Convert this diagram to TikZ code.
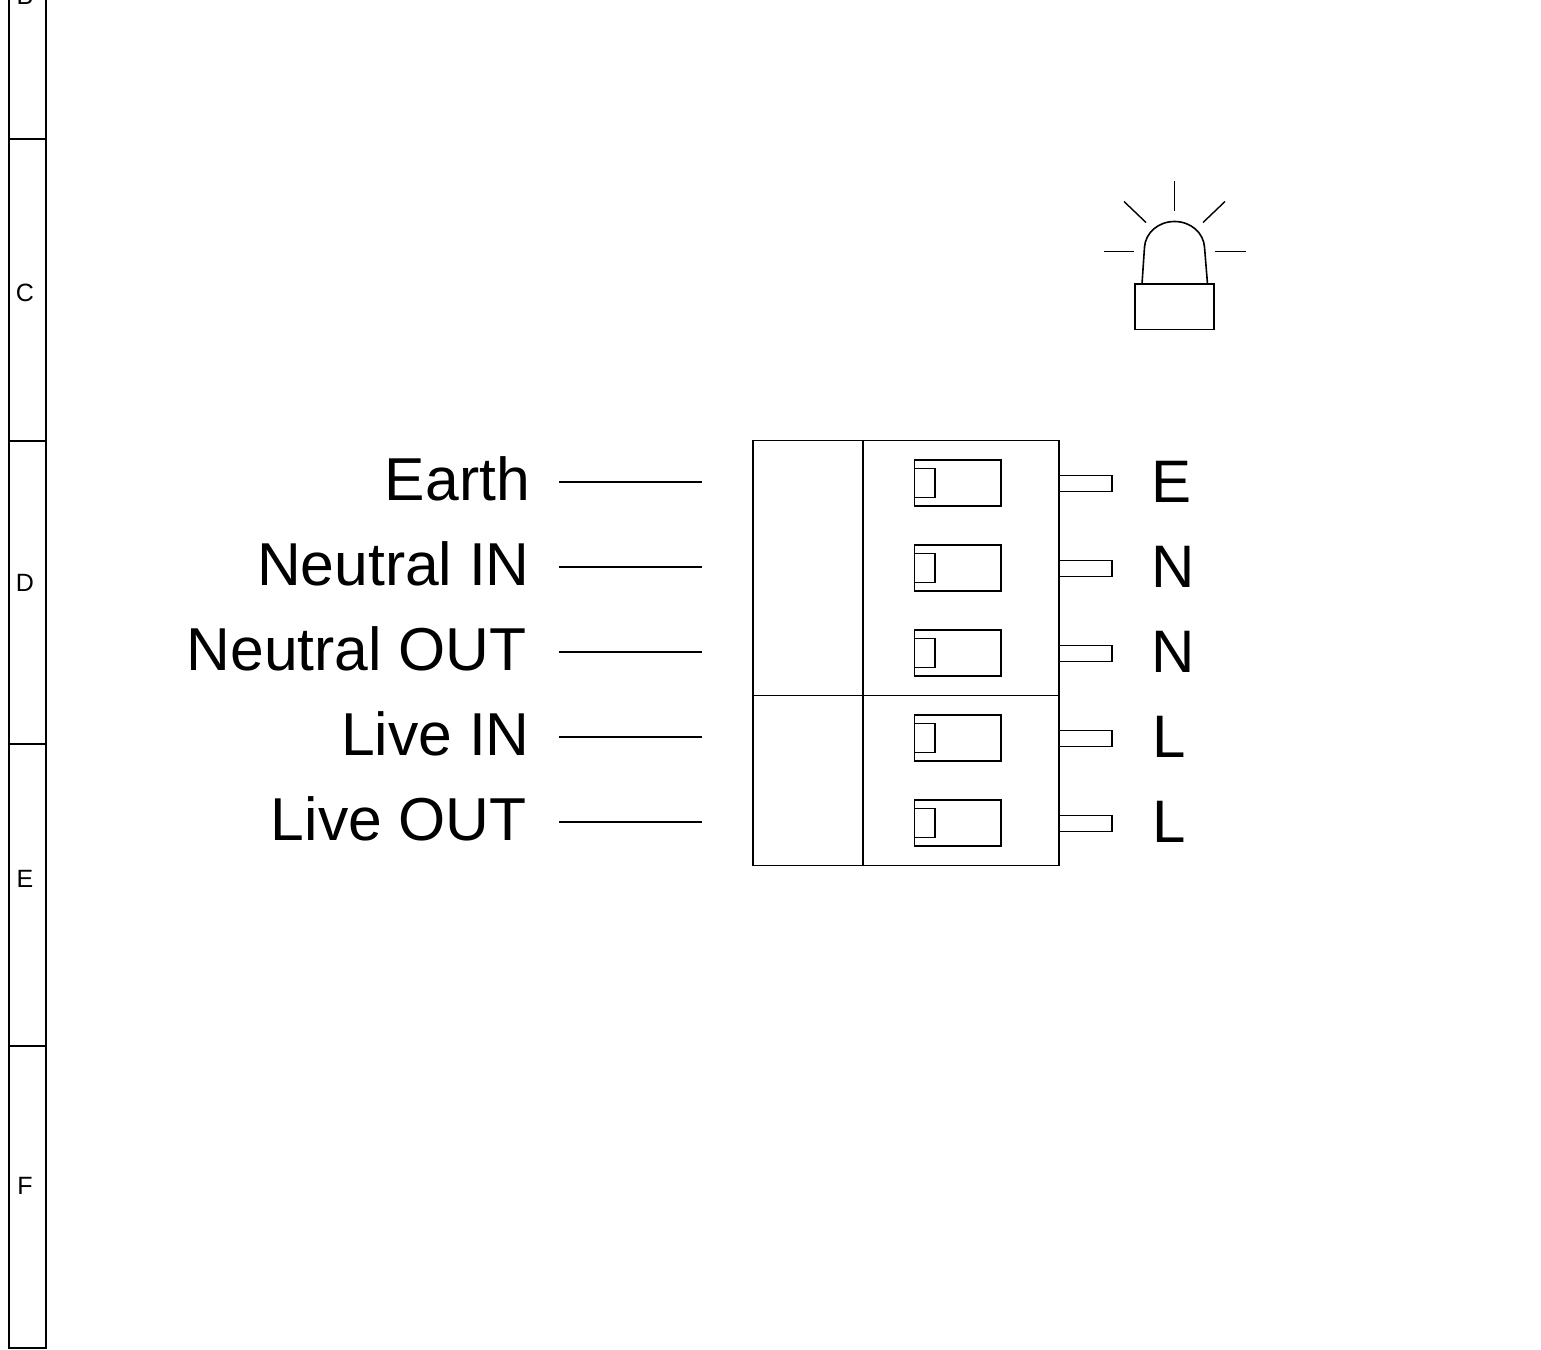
\documentclass[tikz,border=0pt]{standalone}
\usepackage{fontspec}
\setmainfont{Liberation Sans}
\tikzset{
  x=1pt,y=-1pt,
  ln/.style={draw=black,line width=1.6pt,line cap=butt},
  ray/.style={draw=black,line width=1.4pt},
  biglabel/.style={font=\fontsize{60.6}{60.6}\selectfont,inner sep=0pt,anchor=base east},
  pinlabel/.style={font=\fontsize{60}{60}\selectfont,inner sep=0pt,anchor=base west},
  zonelabel/.style={font=\fontsize{25}{25}\selectfont,inner sep=0pt,anchor=base}
}
\begin{document}
\begin{tikzpicture}
\useasboundingbox (0,0) rectangle (1541,1349);
% zone strip
\draw[ln] (9,-5) -- (9,1348) -- (46,1348) -- (46,-5);
\foreach \y in {139,441,744,1046}{\draw[ln] (9,\y) -- (46,\y);}
\node[zonelabel] (zb) at (25,5) {B};
\node[zonelabel] (zc) at (25,301) {C};
\node[zonelabel] (zd) at (25,591) {D};
\node[zonelabel] (ze) at (25,887) {E};
\node[zonelabel] (zf) at (25,1194) {F};
% lamp
\draw[ln] (1135,284) rectangle (1214,329.5);
\draw[ln] (1142,284) -- (1144.5,247) .. controls (1145.5,233) and (1158,221.5) .. (1174.5,221.5) .. controls (1191,221.5) and (1203.5,233) .. (1204.5,247) -- (1207.5,284);
\draw[ray] (1174.5,181) -- (1174.5,210.5);
\draw[ray] (1124,201.5) -- (1146,222.5);
\draw[ray] (1225,201.5) -- (1203,222.5);
\draw[ray] (1103.5,251.5) -- (1134,251.5);
\draw[ray] (1215,251.5) -- (1246,251.5);
% connector body
\draw[ln] (753,440.5) rectangle (1059,865.5);
\draw[ln] (863,440.5) -- (863,865.5);
\draw[ln] (753,695.5) -- (1059,695.5);
% rows
\foreach \n/\y/\lab/\pin/\lx/\px/\by in {
  1/482/Earth/E/530/1151/500,
  2/567/Neutral IN/N/530/1151/585,
  3/652/Neutral OUT/N/527/1151/670,
  4/737/Live IN/L/530/1152/755,
  5/822/Live OUT/L/527/1152/840}{
  \node[biglabel] (lab\n) at (\lx,\by) {\lab};
  \coordinate (ws\n) at (559,\y);
  \coordinate (we\n) at (702,\y);
  \draw[ln] (ws\n) -- (we\n);
  \draw[ln] (914.5,\y-22) rectangle (1001,\y+24);
  \draw[ln] (914.5,\y-13.5) rectangle (935,\y+15.5);
  \draw[ln] (1059,\y-6.5) rectangle (1112,\y+9.5);
  \node[pinlabel] (pin\n) at (\px,\y+20) {\pin};
}
\end{tikzpicture}
\end{document}
